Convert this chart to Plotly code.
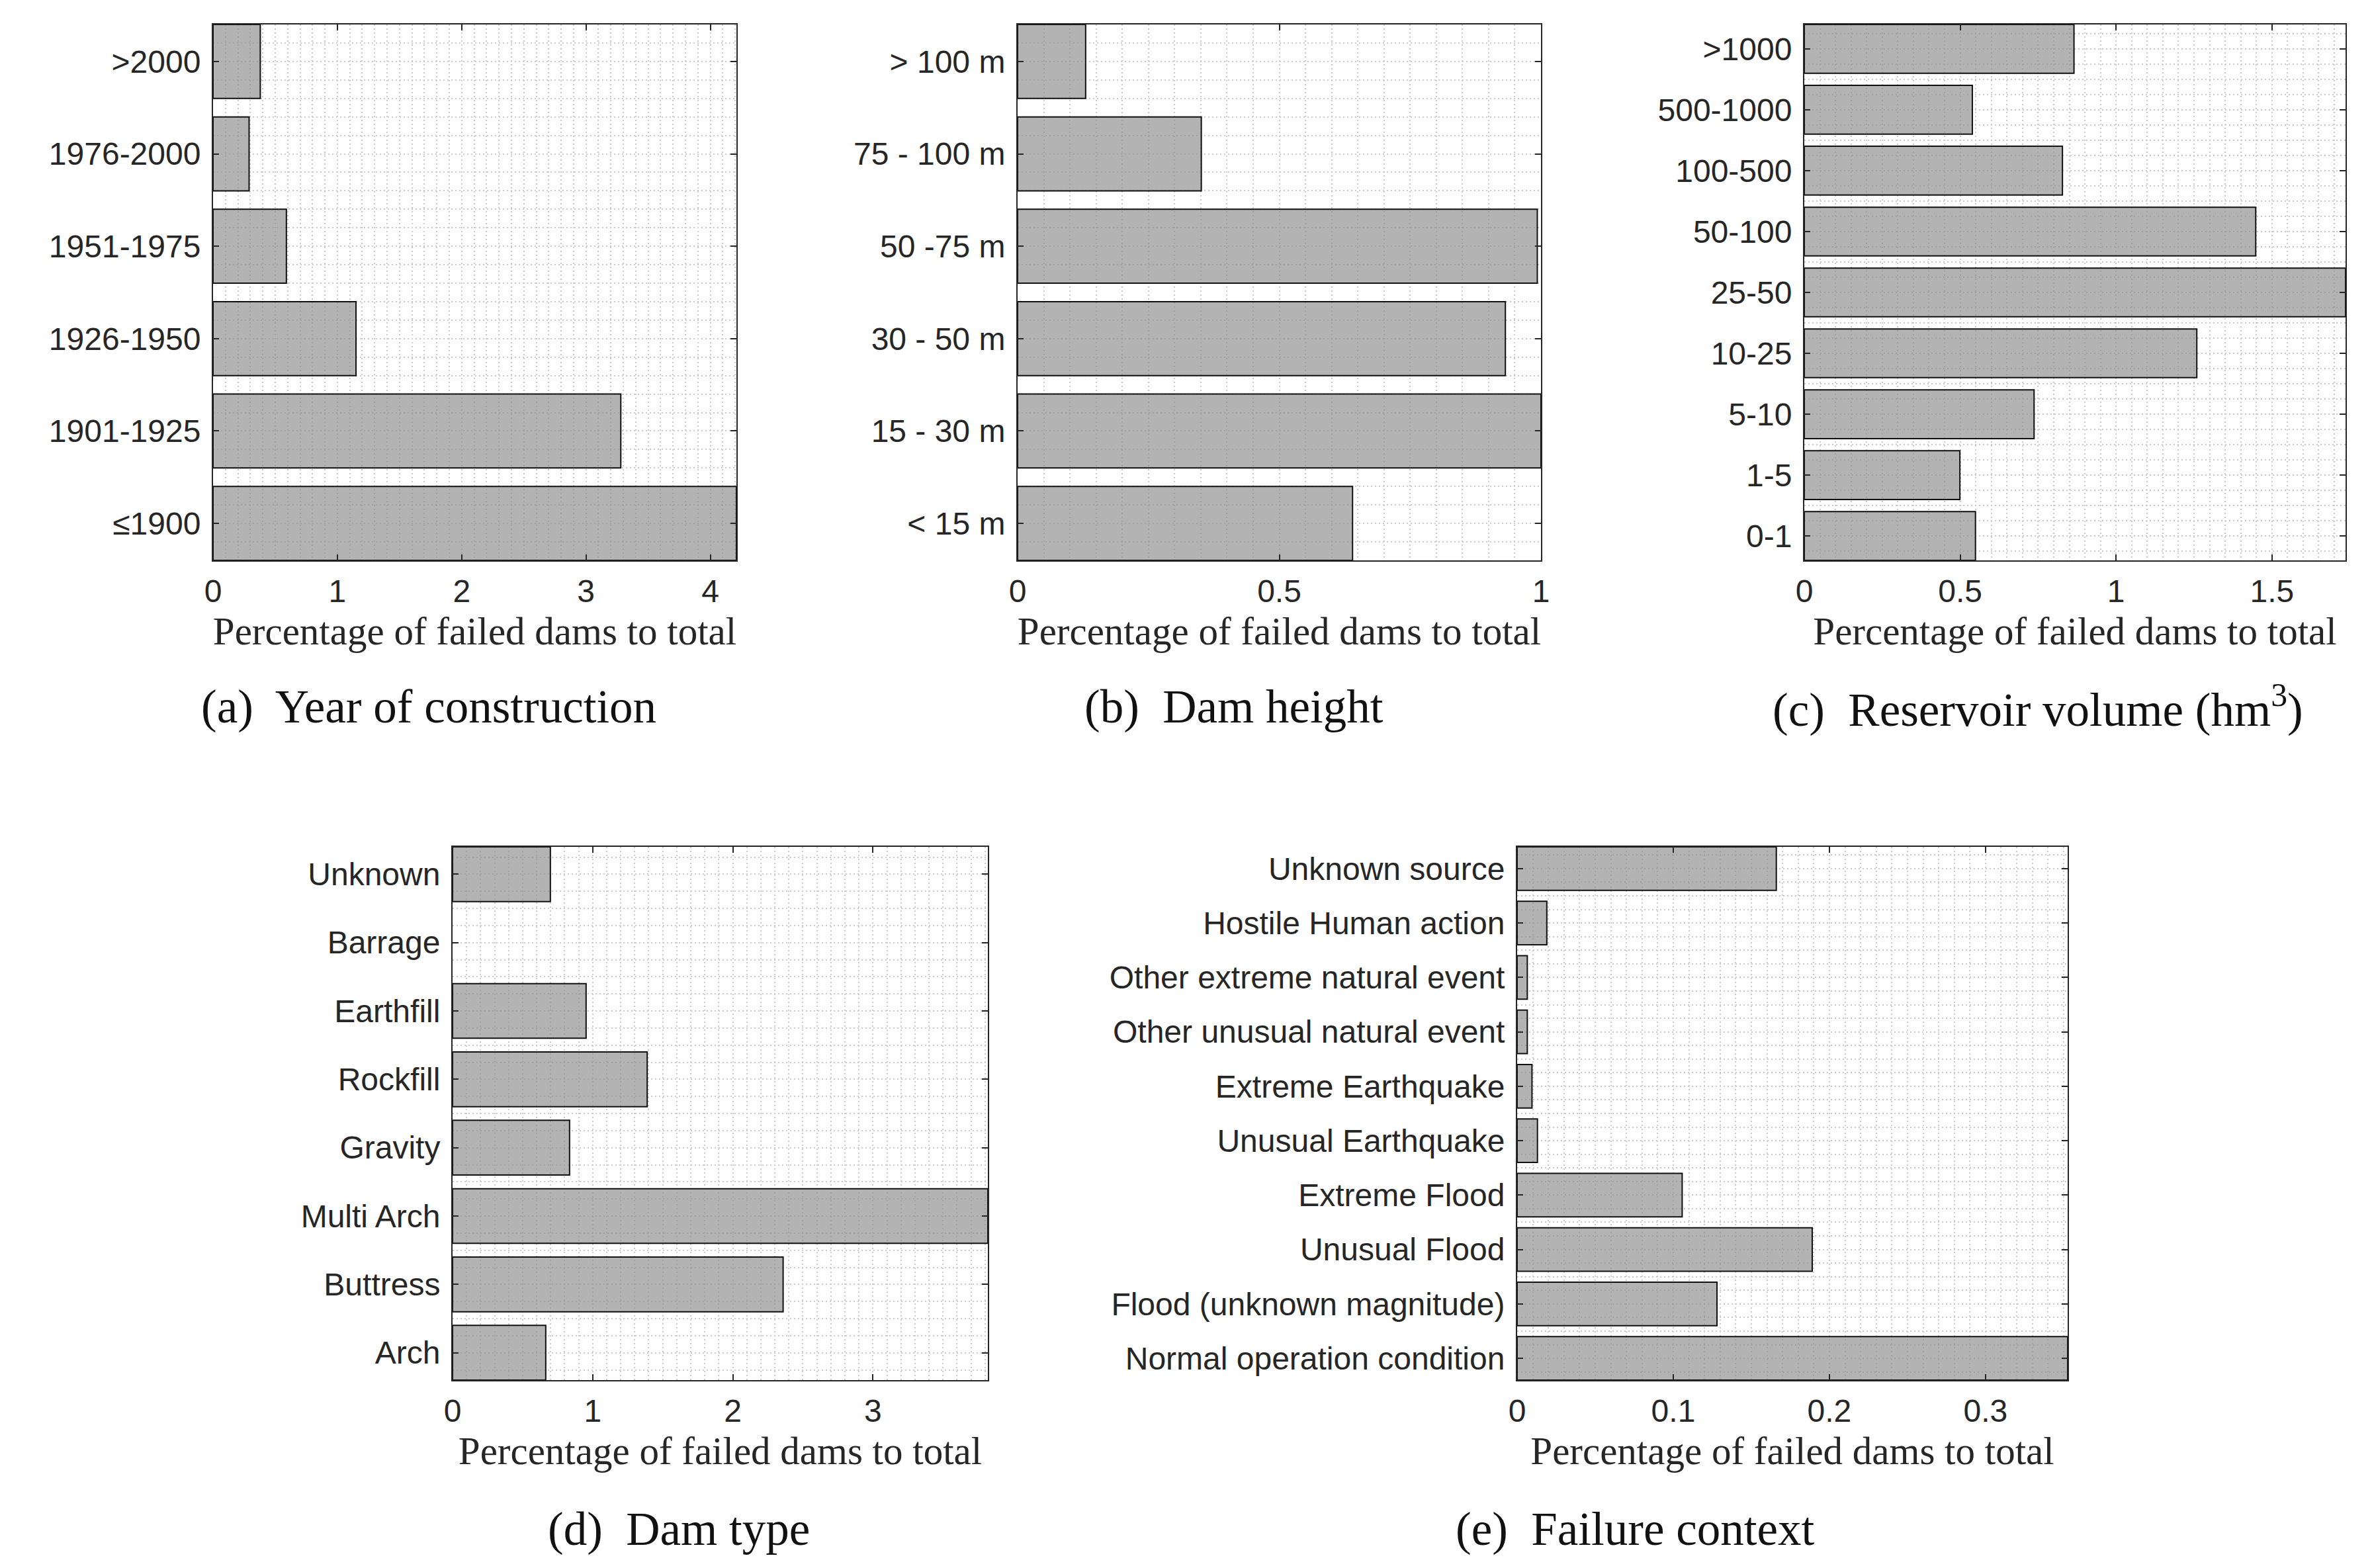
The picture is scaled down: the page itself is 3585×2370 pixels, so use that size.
import plotly.graph_objects as go

W, H = 3585, 2370

# ---------------- data ----------------
year_labels = ["≤1900", "1901-1925", "1926-1950", "1951-1975", "1976-2000", ">2000"]
year_values = [4.21, 3.28, 1.15, 0.59, 0.29, 0.38]

height_labels = ["< 15 m", "15 - 30 m", "30 - 50 m", "50 -75 m", "75 - 100 m", "> 100 m"]
height_values = [0.640, 1.0, 0.932, 0.993, 0.351, 0.130]

volume_labels = ["0-1", "1-5", "5-10", "10-25", "25-50", "50-100", "100-500", "500-1000", ">1000"]
volume_values = [0.549, 0.499, 0.737, 1.259, 1.736, 1.448, 0.828, 0.539, 0.865]

type_labels = ["Arch", "Buttress", "Multi Arch", "Gravity", "Rockfill", "Earthfill", "Barrage", "Unknown"]
type_values = [0.665, 2.359, 3.82, 0.835, 1.389, 0.953, 0.0, 0.698]

context_labels = ["Normal operation condition", "Flood (unknown magnitude)", "Unusual Flood",
                  "Extreme Flood", "Unusual Earthquake", "Extreme Earthquake",
                  "Other unusual natural event", "Other extreme natural event",
                  "Hostile Human action", "Unknown source"]
context_values = [0.3526, 0.128, 0.189, 0.1057, 0.013, 0.0095, 0.0065, 0.0065, 0.019, 0.166]

x_title = "Percentage of failed dams to total"
captions = ["(a)  Year of construction", "(b)  Dam height",
            "(c)  Reservoir volume (hm<sup>3</sup>)", "(d)  Dam type",
            "(e)  Failure context"]

# ---------------- styling ----------------
AX_COLOR = "#262626"
GRID_COLOR = "#cbcbcb"
BAR_FILL = "rgba(140,140,140,0.66)"
TICK_FONT = dict(family="Liberation Sans, Arial, sans-serif", size=48, color=AX_COLOR)
TITLE_FONT = dict(family="Liberation Serif, Times New Roman, serif", size=59, color=AX_COLOR)
CAP_FONT = dict(family="Liberation Serif, Times New Roman, serif", size=71, color="#111111")

OFF = 8  # page body margin compensation

# panel boxes in pixels: left, right, top, bottom
panels = [
    dict(labels=year_labels, values=year_values, box=(322, 1113, 37, 847), dx=1, mdx=0.1, mdy=0.2, cx=648, cy=1068),
    dict(labels=height_labels, values=height_values, box=(1538, 2329, 37, 847), dx=0.5, mdx=0.05, mdy=0.2, cx=1865, cy=1068),
    dict(labels=volume_labels, values=volume_values, box=(2727, 3545, 37, 847), dx=0.5, mdx=0.05, mdy=0.25, cx=3080, cy=1068),
    dict(labels=type_labels, values=type_values, box=(684, 1493, 1280, 2086), dx=1, mdx=0.1, mdy=0.25, cx=1026, cy=2311),
    dict(labels=context_labels, values=context_values, box=(2293, 3125, 1280, 2086), dx=0.1, mdx=0.01, mdy=0.25, cx=2471, cy=2311),
]

fig = go.Figure()
layout = dict(width=W, height=H, margin=dict(l=0, r=0, t=0, b=0),
              paper_bgcolor="white", plot_bgcolor="white", showlegend=False,
              annotations=[])

for i, p in enumerate(panels, start=1):
    n = len(p["labels"])
    pos = list(range(1, n + 1))
    xa = "x" if i == 1 else f"x{i}"
    ya = "y" if i == 1 else f"y{i}"
    edge_w = [2 if v > 0 else 0 for v in p["values"]]
    fig.add_trace(go.Bar(
        x=p["values"], y=pos, orientation="h", width=0.8,
        marker=dict(color=BAR_FILL, line=dict(color="#111111", width=edge_w)),
        xaxis=xa, yaxis=ya, hoverinfo="x+y",
    ))
    l, r, t, b = [v - OFF for v in p["box"]]
    xmax = max(p["values"])
    layout["xaxis" if i == 1 else f"xaxis{i}"] = dict(
        domain=[l / W, r / W], anchor=ya, range=[0, xmax],
        tickmode="linear", tick0=0, dtick=p["dx"],
        ticks="inside", ticklen=9, tickwidth=2, tickcolor=AX_COLOR,
        showline=True, linecolor=AX_COLOR, linewidth=2, mirror="ticks",
        showgrid=True, gridcolor=GRID_COLOR, gridwidth=2, griddash="2px,4px",
        minor=dict(tickmode="linear", tick0=0, dtick=p["mdx"], showgrid=True,
                   gridcolor=GRID_COLOR, gridwidth=2, griddash="2px,4px", ticks=""),
        tickfont=TICK_FONT, ticklabelstandoff=3, zeroline=False,
        title=dict(text=x_title, font=TITLE_FONT, standoff=14),
        automargin=False, fixedrange=True,
    )
    layout["yaxis" if i == 1 else f"yaxis{i}"] = dict(
        domain=[1 - b / H, 1 - t / H], anchor=xa, range=[0.6, n + 0.4],
        tickmode="array", tickvals=pos, ticktext=p["labels"],
        ticks="inside", ticklen=9, tickwidth=2, tickcolor=AX_COLOR,
        showline=True, linecolor=AX_COLOR, linewidth=2, mirror="ticks",
        showgrid=True, gridcolor=GRID_COLOR, gridwidth=2, griddash="2px,4px",
        minor=dict(tickmode="linear", tick0=0, dtick=p["mdy"], showgrid=True,
                   gridcolor=GRID_COLOR, gridwidth=2, griddash="2px,4px", ticks=""),
        tickfont=TICK_FONT, ticklabelstandoff=7, zeroline=False,
        automargin=False, fixedrange=True,
    )
    layout["annotations"].append(dict(
        text=captions[i - 1], x=(p["cx"] - OFF) / W, y=1 - (p["cy"] - OFF) / H,
        xref="paper", yref="paper",
        xanchor="center", yanchor="middle", showarrow=False, font=CAP_FONT,
    ))

fig.update_layout(**layout)
fig.write_html("out.html")
